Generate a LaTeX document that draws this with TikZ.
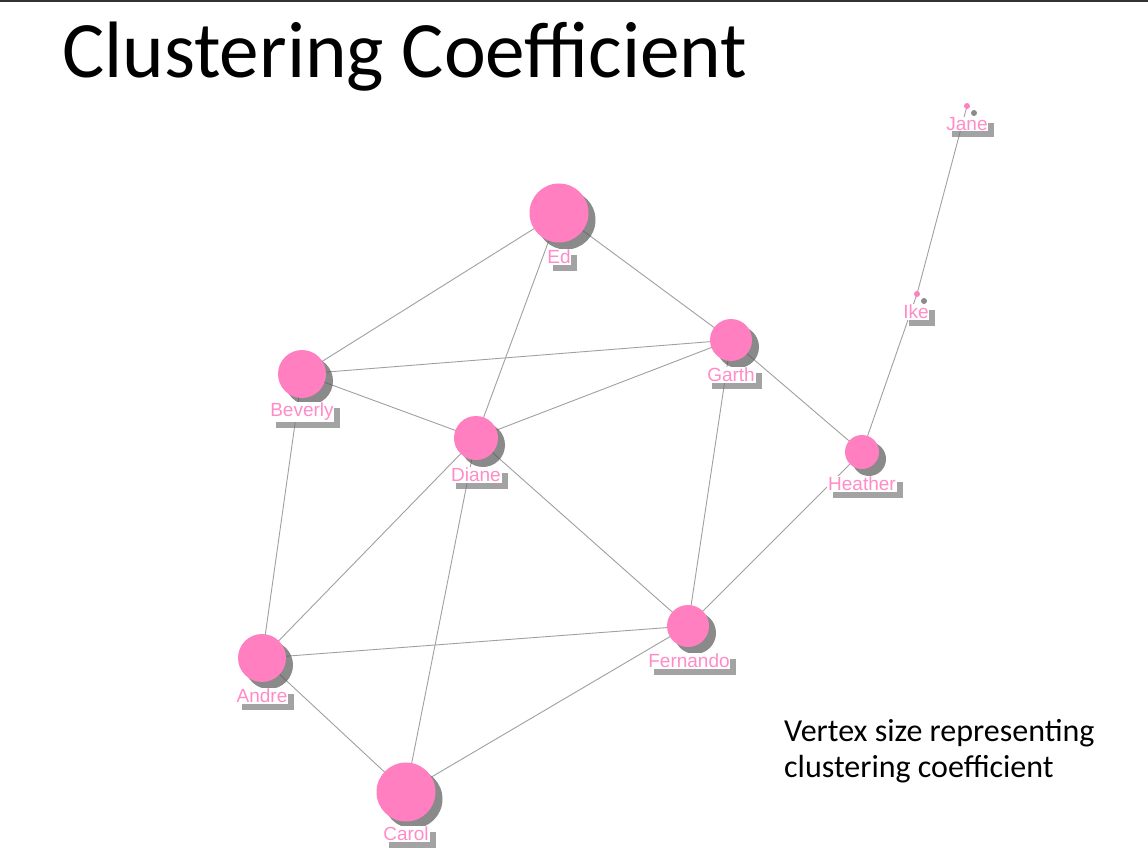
\documentclass[tikz,border=0pt]{standalone}
\usepackage{fontspec}
\setmainfont{Carlito}
\newfontfamily\labfont{Liberation Sans}
\usetikzlibrary{shadows}
\pgfdeclarelayer{canvas}
\pgfdeclarelayer{background}
\pgfsetlayers{canvas,background,main}
\definecolor{nodepink}{HTML}{FF7FC0}
\definecolor{labpink}{HTML}{FF8CC8}
\definecolor{edgegray}{HTML}{A0A0A0}
\begin{document}
\begin{tikzpicture}[x=1pt,y=-1pt,
  vtx/.style={circle,fill=nodepink,inner sep=0pt,minimum size=#1,
    drop shadow={shadow xshift=7pt,shadow yshift=-7pt,fill=black!65,opacity=0.7}},
  vlab/.style={fill=white,text=labpink,inner sep=0.8pt,font=\labfont\fontsize{19}{19}\selectfont,
    drop shadow={shadow xshift=6pt,shadow yshift=-6pt,fill=black!55,opacity=0.65}},
  edge/.style={draw=edgegray,line width=0.9pt}]
\useasboundingbox (0,0) rectangle (1148,858);
\begin{pgfonlayer}{canvas}
\fill[white] (0,0) rectangle (1148,858);
\fill[black!80] (0,0) rectangle (1148,2);
\end{pgfonlayer}
\node[anchor=base west,inner sep=0pt] (title) at (62,78)
  {\scalebox{0.99}[1]{\fontsize{80}{80}\selectfont Clustering Coefficient}};
\node[anchor=base west,inner sep=0pt,align=left,font=\fontsize{32}{36}\selectfont] (cap) at (784,777)
  {Vertex size representing\\clustering coefficient};
% vertices
\node[vtx=59] (ed) at (559,213) {};
\node[vtx=48] (beverly) at (302,374) {};
\node[vtx=42] (garth) at (731,340) {};
\node[vtx=44] (diane) at (476,438) {};
\node[vtx=34] (heather) at (862,452) {};
\node[vtx=6] (ike) at (917,294) {};
\node[vtx=6] (jane) at (967,106) {};
\node[vtx=42] (fernando) at (688,626) {};
\node[vtx=48] (andre) at (262,658) {};
\node[vtx=59] (carol) at (406,792) {};
% labels
\node[vlab] (edl) at (559,257) {Ed};
\node[vlab] (beverlyl) at (302,412) {Beverly};
\node[vlab] (garthl) at (731,375) {Garth};
\node[vlab] (dianel) at (476,475) {Diane};
\node[vlab] (heatherl) at (862,484) {Heather};
\node[vlab] (ikel) at (916,312) {Ike};
\node[vlab] (janel) at (967,124) {Jane};
\node[vlab] (fernandol) at (689,661) {Fernando};
\node[vlab] (andrel) at (262,696) {Andre};
\node[vlab] (caroll) at (406,834) {Carol};
% edges
\begin{pgfonlayer}{background}
\draw[edge] (ed.center) -- (beverly.center);
\draw[edge] (ed.center) -- (diane.center);
\draw[edge] (ed.center) -- (garth.center);
\draw[edge] (beverly.center) -- (garth.center);
\draw[edge] (beverly.center) -- (diane.center);
\draw[edge] (beverly.center) -- (andre.center);
\draw[edge] (diane.center) -- (garth.center);
\draw[edge] (diane.center) -- (andre.center);
\draw[edge] (diane.center) -- (carol.center);
\draw[edge] (diane.center) -- (fernando.center);
\draw[edge] (garth.center) -- (fernando.center);
\draw[edge] (garth.center) -- (heather.center);
\draw[edge] (heather.center) -- (fernando.center);
\draw[edge] (heather.center) -- (ike.center);
\draw[edge] (ike.center) -- (jane.center);
\draw[edge] (andre.center) -- (fernando.center);
\draw[edge] (andre.center) -- (carol.center);
\draw[edge] (carol.center) -- (fernando.center);
\end{pgfonlayer}
\end{tikzpicture}
\end{document}
